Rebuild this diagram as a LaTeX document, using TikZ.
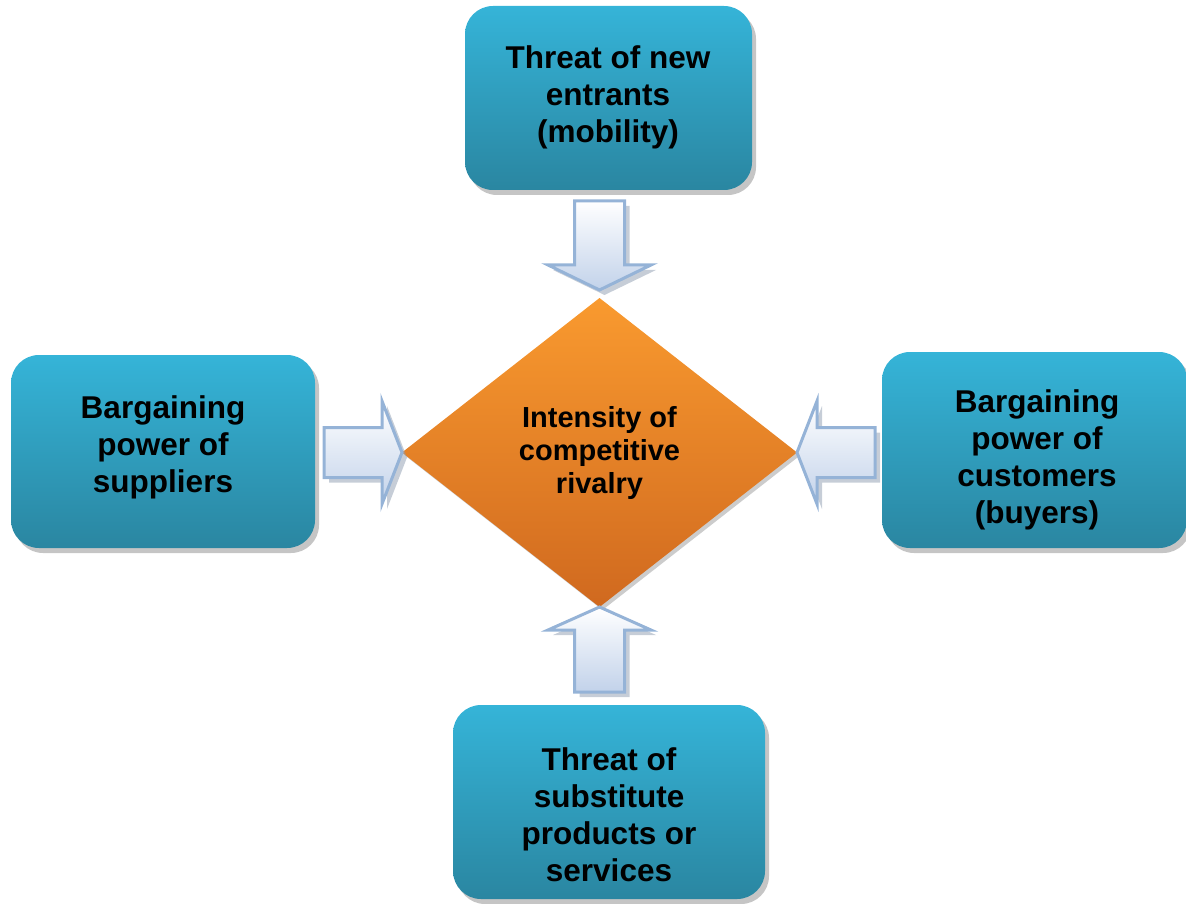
\documentclass[tikz,border=0pt]{standalone}
\usepackage{fontspec}
\setmainfont{Liberation Sans}
\usetikzlibrary{shapes.geometric,
                shadows,
                calc}

\definecolor{boxtop}{HTML}{35B4D8}
\definecolor{boxbot}{HTML}{2A86A1}
\definecolor{rivtop}{HTML}{F99A2F}
\definecolor{rivbot}{HTML}{D0691F}
\definecolor{arrline}{HTML}{95B3D7}
\definecolor{arrbot}{HTML}{C2D2EA}
\definecolor{arrshade}{HTML}{8E9CB0}

\begin{document}
\begin{tikzpicture}%
        [x = 0.5pt, y = -0.5pt,
         force/.style = {rectangle, rounded corners = 14pt, draw = none,
                         top color = boxtop, bottom color = boxbot,
                         drop shadow = {shadow xshift = 2pt, shadow yshift = -2.5pt, fill = black!45}},
         forcetext/.style = {align = center, font = \bfseries\fontsize{15.75}{18.5}\selectfont},
         rival/.style = {diamond, inner sep = 0pt, outer sep = 0pt,
                         minimum width = 197.5pt, minimum height = 154.5pt,
                         top color = rivtop, bottom color = rivbot,
                         drop shadow = {shadow xshift = 1.5pt, shadow yshift = -1.5pt, fill = black!40},
                         align = center, font = \bfseries\fontsize{14.5}{16.5}\selectfont},
         push/.style = {draw = arrline, line width = 1.5pt, line join = miter,
                        top color = white, bottom color = arrbot,
                        drop shadow = {shadow xshift = 2.5pt, shadow yshift = -2.5pt, fill = arrshade}}]
        \useasboundingbox (0,0) rectangle (1186,903);

        % the five forces
        \node [force, minimum width = 143.5pt, minimum height = 92pt] (new) at (608.5,98) {};
        \node [force, minimum width = 152pt, minimum height = 96.5pt] (sup) at (163,451.5) {};
        \node [force, minimum width = 152.5pt, minimum height = 98pt] (cust) at (1034.5,450) {};
        \node [force, minimum width = 156pt, minimum height = 97pt] (subst) at (609,802) {};

        \node [forcetext] (new-t) at (608,97) {Threat of new\\entrants\\(mobility)};
        \node [forcetext] (sup-t) at (163,447) {Bargaining\\power of\\suppliers};
        \node [forcetext] (cust-t) at (1037,460) {Bargaining\\power of\\customers\\(buyers)};
        \node [forcetext] (subst-t) at (609,815) {Threat of\\substitute\\products or\\services};

        \node [rival] (rivalry) at (599.5,452.5) {Intensity of\\competitive\\rivalry};

        % block arrows into the centre
        \draw [push] ($(rivalry.north)+(0,-8)$) -- ++(-51.5,-25) -- ++(26.5,0) -- ++(0,-64)
                     -- ++(50,0) -- ++(0,64) -- ++(26.5,0) -- cycle;
        \draw [push] (rivalry.west) -- ++(-20,-51.5) -- ++(0,26.5) -- ++(-58,0)
                     -- ++(0,50) -- ++(58,0) -- ++(0,26.5) -- cycle;
        \draw [push] (rivalry.east) -- ++(20,-51.5) -- ++(0,26.5) -- ++(58,0)
                     -- ++(0,50) -- ++(-58,0) -- ++(0,26.5) -- cycle;
        \draw [push] (rivalry.south) -- ++(-51.5,23) -- ++(26.5,0) -- ++(0,62)
                     -- ++(50,0) -- ++(0,-62) -- ++(26.5,0) -- cycle;
    \end{tikzpicture}
\end{document}
